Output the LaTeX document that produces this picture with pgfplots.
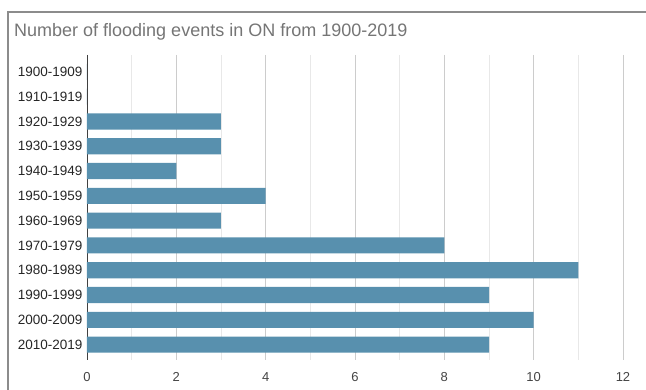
\documentclass[border=0pt]{standalone}
\usepackage{pgfplots}
\pgfplotsset{compat=1.18}
\usepackage{fontspec}
\setmainfont{Liberation Sans}

\definecolor{barblue}{RGB}{88,144,174}
\definecolor{titlegray}{RGB}{117,117,117}
\definecolor{majgrid}{RGB}{204,204,204}
\definecolor{mingrid}{RGB}{232,232,232}
\definecolor{framegray}{RGB}{140,140,140}
\definecolor{labelgray}{RGB}{68,68,68}

\pgfplotstableread{
idx count
0 0
1 0
2 3
3 3
4 2
5 4
6 3
7 8
8 11
9 9
10 10
11 9
}\floods

\begin{document}
\begin{tikzpicture}[x=1pt,y=1pt]
\begin{axis}[
  at={(0pt,0pt)}, anchor=south west,
  scale only axis,
  width=536pt, height=305pt,
  xbar, bar width=0.65,
  y dir=reverse,
  xmin=0, xmax=12,
  ymin=-0.68, ymax=11.62,
  xtick={0,2,...,12},
  minor xtick={1,3,...,11},
  ytick={0,...,11},
  yticklabels={1900-1909,1910-1919,1920-1929,1930-1939,1940-1949,1950-1959,1960-1969,1970-1979,1980-1989,1990-1999,2000-2009,2010-2019},
  xmajorgrids, xminorgrids,
  major x grid style={majgrid, line width=0.8pt},
  minor x grid style={mingrid, line width=0.8pt},
  major tick length=0pt, minor tick length=0pt,
  axis x line*=bottom, axis y line*=left,
  x axis line style={draw=none},
  y axis line style={draw=black!75, line width=0.9pt, -},
  /pgf/number format/assume math mode=true,
  xticklabel style={font=\fontsize{13}{15}\selectfont, text=labelgray, yshift=-9pt},
  yticklabel style={font=\fontsize{13.5}{15}\selectfont, text=black!85, xshift=-1pt},
]
\addplot[fill=barblue, draw=none] table[x=count, y=idx] {\floods};
\end{axis}
% frame and title
\draw[framegray, line width=1.4pt] (-79,-31) -- (-79,348) -- (560,348);
\node[anchor=base west, text=titlegray, font=\fontsize{18}{21}\selectfont, inner sep=0pt] at (-73,323) {Number of flooding events in ON from 1900-2019};
\pgfresetboundingbox
\path[use as bounding box] (-87,-30) rectangle (559,360);
\end{tikzpicture}
\end{document}
